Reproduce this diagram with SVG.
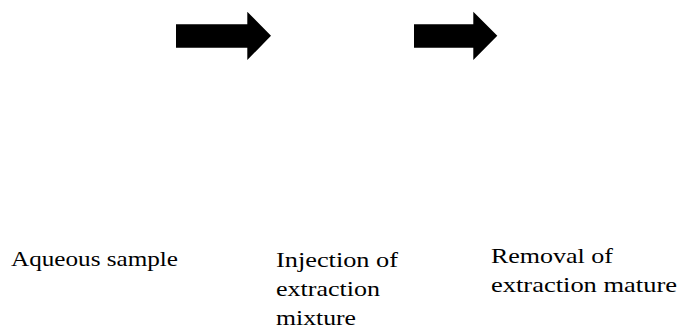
<svg xmlns="http://www.w3.org/2000/svg" width="679" height="331" viewBox="0 0 679 331">
<style>
.lbl{font-family:"Liberation Serif","Times New Roman",serif;font-size:21px;fill:#000}
.arr{fill:#000}
</style>
<rect width="679" height="331" fill="#fff"/>
<g id="connectors">
<polygon class="arr" points="176,24.3 247.3,24.3 247.3,11.7 271,35.8 247.3,60 247.3,47.7 176,47.7"/>
<polygon class="arr" points="414,24.3 473.3,24.3 473.3,11.7 497.3,35.8 473.3,60 473.3,47.7 414,47.7"/>
</g>
<g id="node-aqueous"><text class="lbl" x="11" y="265.5" textLength="167" lengthAdjust="spacingAndGlyphs">Aqueous sample</text></g>
<g id="node-injection">
<text class="lbl" x="276" y="266.5" textLength="122" lengthAdjust="spacingAndGlyphs">Injection of</text>
<text class="lbl" x="276" y="296" textLength="104" lengthAdjust="spacingAndGlyphs">extraction</text>
<text class="lbl" x="276" y="325" textLength="80" lengthAdjust="spacingAndGlyphs">mixture</text>
</g>
<g id="node-removal">
<text class="lbl" x="491" y="262.5" textLength="122" lengthAdjust="spacingAndGlyphs">Removal of</text>
<text class="lbl" x="491" y="291.7" textLength="186" lengthAdjust="spacingAndGlyphs">extraction mature</text>
</g>
</svg>
